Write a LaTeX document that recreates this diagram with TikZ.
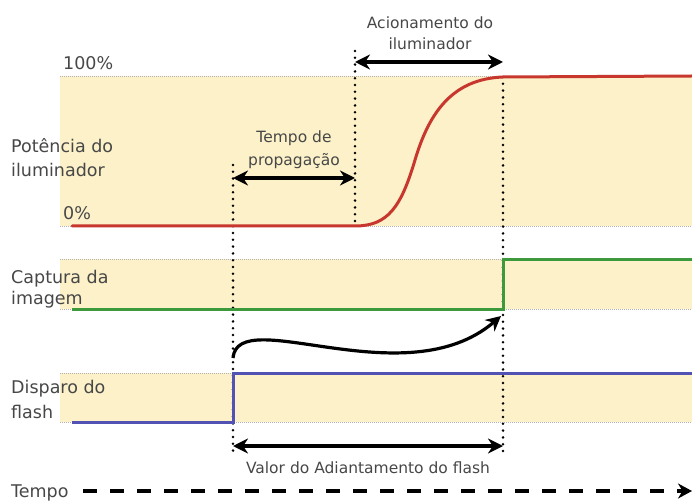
\documentclass[tikz,border=0pt]{standalone}
\usepackage{fontspec}
\setmainfont{DejaVu Sans}
\usetikzlibrary{arrows.meta}
\definecolor{bandfill}{HTML}{FCF1C9}
\definecolor{txt}{HTML}{474747}
\definecolor{redline}{HTML}{C8372D}
\definecolor{greenline}{HTML}{3C9A3C}
\definecolor{blueline}{HTML}{5252B4}
\tikzset{
  band/.style={fill=bandfill, draw=none},
  edgeline/.style={draw=gray!60, line width=0.9pt, dash pattern=on 1pt off 1pt},
  vdots/.style={draw=black, line width=2.8pt, line cap=round, dash pattern=on 0pt off 6.8pt},
  lbl/.style={text=txt, font=\fontsize{17.5}{24}\selectfont, align=left, inner sep=0pt},
  slbl/.style={text=txt, font=\fontsize{15.5}{23}\selectfont, align=center, inner sep=0pt},
  dimarrow/.style={draw=black, line width=3.2pt, {Stealth[length=15pt,width=15pt]}-{Stealth[length=15pt,width=15pt]}},
  signal/.style={line width=3pt, line join=miter},
}
\begin{document}
\begin{tikzpicture}[x=1pt,y=-1pt]
\useasboundingbox (0,0) rectangle (692,502);
% bands
\fill[band] (60,76) rectangle (692,226);
\fill[band] (60,259) rectangle (692,309);
\fill[band] (60,373) rectangle (692,422);
\foreach \yy in {76,226,259,309,373,422}{\draw[edgeline] (60,\yy) -- (692,\yy);}
% key coordinates
\coordinate (x1top) at (233,165);
\coordinate (x1bot) at (233,452);
\coordinate (x2top) at (355,51);
\coordinate (x2bot) at (355,226);
\coordinate (x3top) at (503,77);
\coordinate (x3bot) at (503,452);
% vertical dotted lines
\draw[vdots] (x1top) -- (x1bot);
\draw[vdots] (x2top) -- (x2bot);
\draw[vdots] (x3top) -- (x3bot);
% red power curve
\coordinate (r0) at (72,226);
\coordinate (r1) at (355,226);
\coordinate (r2) at (415,160);
\coordinate (r3) at (503,77);
\coordinate (r4) at (692,76);
\draw[signal, draw=redline, line cap=round] (r0) -- (r1) .. controls (388,226) and (401,207) .. (r2) .. controls (429,113) and (452,79) .. (r3) -- (r4);
% green capture
\coordinate (g0) at (72,309);
\coordinate (g1) at (503,309);
\coordinate (g2) at (503,259);
\coordinate (g3) at (692,259);
\draw[signal, draw=greenline] (g0) -- (g1) -- (g2) -- (g3);
% blue flash
\coordinate (b0) at (72,422);
\coordinate (b1) at (233,422);
\coordinate (b2) at (233,373);
\coordinate (b3) at (692,373);
\draw[signal, draw=blueline] (b0) -- (b1) -- (b2) -- (b3);
% labels (anchor base = baseline of last line)
\node[lbl, anchor=base west] (p100) at (63,70) {100\%};
\node[lbl, anchor=base west] (p0) at (63,220) {0\%};
\node[lbl, anchor=base west, font=\fontsize{17.5}{24}\selectfont] (pot) at (11,177) {Potência do\\iluminador};
\node[lbl, anchor=base west, font=\fontsize{17.5}{21}\selectfont] (cap) at (11,304) {Captura da\\imagem};
\node[lbl, anchor=base west, font=\fontsize{17.5}{25}\selectfont] (dis) at (11,418) {Disparo do\\flash};
\node[lbl, anchor=base west] (tempo) at (11,497) {Tempo};
% dimension arrows
\coordinate (pa) at (233,178);
\coordinate (pb) at (355,178);
\draw[dimarrow] (pa) -- (pb);
\node[slbl, anchor=base] (prop) at (294,166) {Tempo de\\propagação};
\coordinate (aa) at (355,62);
\coordinate (ab) at (503,62);
\draw[dimarrow] (aa) -- (ab);
\node[slbl, anchor=base, font=\fontsize{15.5}{21}\selectfont] (acio) at (430,50) {Acionamento do\\iluminador};
\coordinate (va) at (233,446);
\coordinate (vb) at (503,446);
\draw[dimarrow] (va) -- (vb);
\node[slbl, anchor=base] (valor) at (368,473) {Valor do Adiantamento do flash};
% curved arrow
\coordinate (ca) at (233,358);
\coordinate (cb) at (501,316);
\draw[line width=3.2pt, -{Stealth[length=15pt,width=15pt]}] (ca) .. controls (238,303) and (405,398) .. (cb);
% time axis
\coordinate (t0) at (83,491);
\coordinate (t1) at (692,491);
\draw[line width=4.5pt, dash pattern=on 14pt off 13pt, -{Stealth[length=14pt,width=15pt]}] (t0) -- (t1);
\end{tikzpicture}
\end{document}
